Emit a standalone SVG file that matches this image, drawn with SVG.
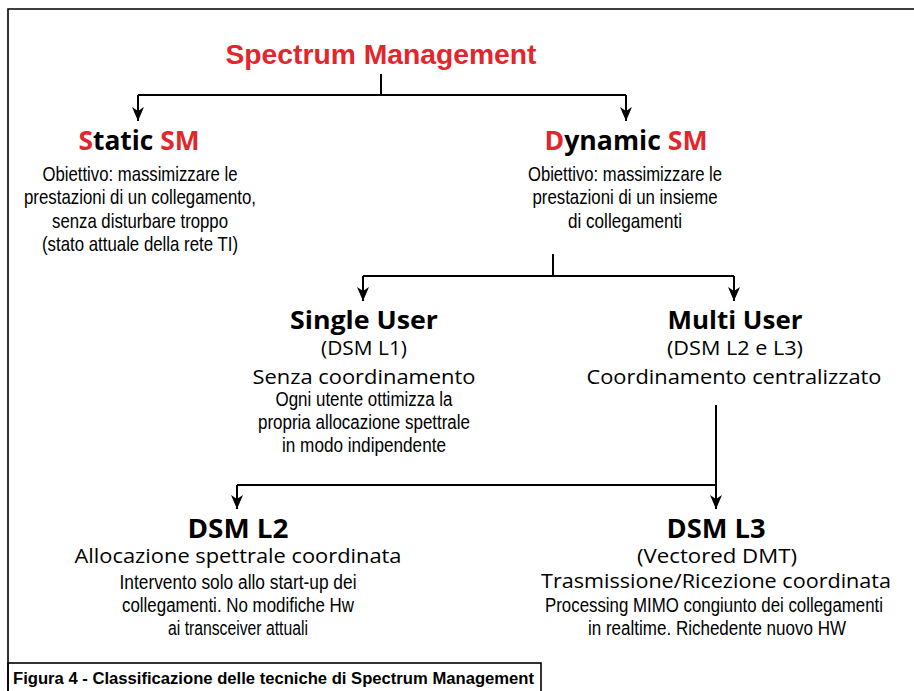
<svg xmlns="http://www.w3.org/2000/svg" width="914" height="691" viewBox="0 0 914 691">
<style>
.frame{fill:none;stroke:#000;stroke-width:1.6}
.conn{fill:none;stroke:#000;stroke-width:2}
.h{font-family:"Open Sans","Liberation Sans",sans-serif;font-weight:bold;fill:#000;text-anchor:middle}
.red{fill:#e3262b}
.title{font-family:"Liberation Sans Narrow","Liberation Sans",sans-serif;font-weight:bold;fill:#e3262b;text-anchor:middle;font-size:27px}
.r{font-family:"Open Sans","Liberation Sans",sans-serif;fill:#000;text-anchor:middle;font-size:20px}
.c{font-family:"Liberation Sans Narrow","Liberation Sans",sans-serif;fill:#000;text-anchor:middle;font-size:21px}
.s{font-size:20px}
.cap{font-family:"Liberation Sans Narrow","Liberation Sans",sans-serif;font-weight:bold;fill:#000;font-size:16px}
</style>
<defs>
<marker id="arrd" markerUnits="userSpaceOnUse" markerWidth="14" markerHeight="16" refX="14" refY="7" orient="auto" viewBox="0 0 14 14">
<path d="M0,1 L14,7 L0,13 L4,7 Z" fill="#000"/>
</marker>
</defs>
<rect width="914" height="691" fill="#fff"/>
<path class="frame" d="M8,691 V9 H914"/>

<g id="connectors">
<path class="conn" d="M381,74 V95"/>
<path class="conn" d="M138,95 H626"/>
<line class="conn" x1="138" y1="95" x2="138" y2="121" marker-end="url(#arrd)"/>
<line class="conn" x1="626" y1="95" x2="626" y2="121" marker-end="url(#arrd)"/>
<path class="conn" d="M553,254 V276"/>
<path class="conn" d="M363,276 H734"/>
<line class="conn" x1="363" y1="276" x2="363" y2="301" marker-end="url(#arrd)"/>
<line class="conn" x1="734" y1="276" x2="734" y2="301" marker-end="url(#arrd)"/>
<path class="conn" d="M716,405 V485"/>
<path class="conn" d="M237,485 H716"/>
<line class="conn" x1="237" y1="485" x2="237" y2="509" marker-end="url(#arrd)"/>
<line class="conn" x1="716" y1="485" x2="716" y2="509" marker-end="url(#arrd)"/>
</g>

<g id="spectrum-management">
<text class="title" x="381" y="64" textLength="311" lengthAdjust="spacingAndGlyphs">Spectrum Management</text>
</g>

<g id="static-sm">
<text class="h" x="139" y="150" font-size="26" textLength="121" lengthAdjust="spacingAndGlyphs"><tspan class="red">S</tspan>tatic <tspan class="red">SM</tspan></text>
<text class="c" x="140" y="181" textLength="195" lengthAdjust="spacingAndGlyphs">Obiettivo: massimizzare le</text>
<text class="c" x="140" y="204" textLength="232" lengthAdjust="spacingAndGlyphs">prestazioni di un collegamento,</text>
<text class="c" x="140" y="228" textLength="176" lengthAdjust="spacingAndGlyphs">senza disturbare troppo</text>
<text class="c" x="140" y="251" textLength="196" lengthAdjust="spacingAndGlyphs">(stato attuale della rete TI)</text>
</g>

<g id="dynamic-sm">
<text class="h" x="626" y="150" font-size="26" textLength="163" lengthAdjust="spacingAndGlyphs"><tspan class="red">D</tspan>ynamic <tspan class="red">SM</tspan></text>
<text class="c" x="625" y="181" textLength="194" lengthAdjust="spacingAndGlyphs">Obiettivo: massimizzare le</text>
<text class="c" x="625" y="204" textLength="185" lengthAdjust="spacingAndGlyphs">prestazioni di un insieme</text>
<text class="c" x="625" y="228" textLength="114" lengthAdjust="spacingAndGlyphs">di collegamenti</text>
</g>

<g id="single-user">
<text class="h" x="364" y="329" font-size="25" textLength="148" lengthAdjust="spacingAndGlyphs">Single User</text>
<text class="r" x="364" y="355" textLength="86" lengthAdjust="spacingAndGlyphs">(DSM L1)</text>
<text class="r" x="364" y="384" textLength="223" lengthAdjust="spacingAndGlyphs">Senza coordinamento</text>
<text class="c s" x="364" y="406" textLength="177" lengthAdjust="spacingAndGlyphs">Ogni utente ottimizza la</text>
<text class="c s" x="364" y="429" textLength="212" lengthAdjust="spacingAndGlyphs">propria allocazione spettrale</text>
<text class="c s" x="364" y="452" textLength="164" lengthAdjust="spacingAndGlyphs">in modo indipendente</text>
</g>

<g id="multi-user">
<text class="h" x="735" y="329" font-size="25" textLength="135" lengthAdjust="spacingAndGlyphs">Multi User</text>
<text class="r" x="735" y="355" textLength="136" lengthAdjust="spacingAndGlyphs">(DSM L2 e L3)</text>
<text class="r" x="734" y="384" textLength="295" lengthAdjust="spacingAndGlyphs">Coordinamento centralizzato</text>
</g>

<g id="dsm-l2">
<text class="h" x="238" y="538" font-size="26" textLength="101" lengthAdjust="spacingAndGlyphs">DSM L2</text>
<text class="r" x="238" y="563" textLength="327" lengthAdjust="spacingAndGlyphs">Allocazione spettrale coordinata</text>
<text class="c s" x="238" y="589" textLength="237" lengthAdjust="spacingAndGlyphs">Intervento solo allo start-up dei</text>
<text class="c s" x="238" y="612" textLength="232" lengthAdjust="spacingAndGlyphs">collegamenti. No modifiche Hw</text>
<text class="c s" x="238" y="635" textLength="140" lengthAdjust="spacingAndGlyphs">ai transceiver attuali</text>
</g>

<g id="dsm-l3">
<text class="h" x="716" y="538" font-size="26" textLength="99" lengthAdjust="spacingAndGlyphs">DSM L3</text>
<text class="r" x="717" y="563" textLength="160" lengthAdjust="spacingAndGlyphs">(Vectored DMT)</text>
<text class="r" x="716" y="588" textLength="350" lengthAdjust="spacingAndGlyphs">Trasmissione/Ricezione coordinata</text>
<text class="c s" x="714" y="612" textLength="338" lengthAdjust="spacingAndGlyphs">Processing MIMO congiunto dei collegamenti</text>
<text class="c s" x="717" y="635" textLength="258" lengthAdjust="spacingAndGlyphs">in realtime. Richedente nuovo HW</text>
</g>

<g id="caption">
<rect class="frame" x="8" y="663" width="533" height="40"/>
<text class="cap" x="13" y="684" textLength="521" lengthAdjust="spacingAndGlyphs">Figura 4 - Classificazione delle tecniche di Spectrum Management</text>
</g>
</svg>
